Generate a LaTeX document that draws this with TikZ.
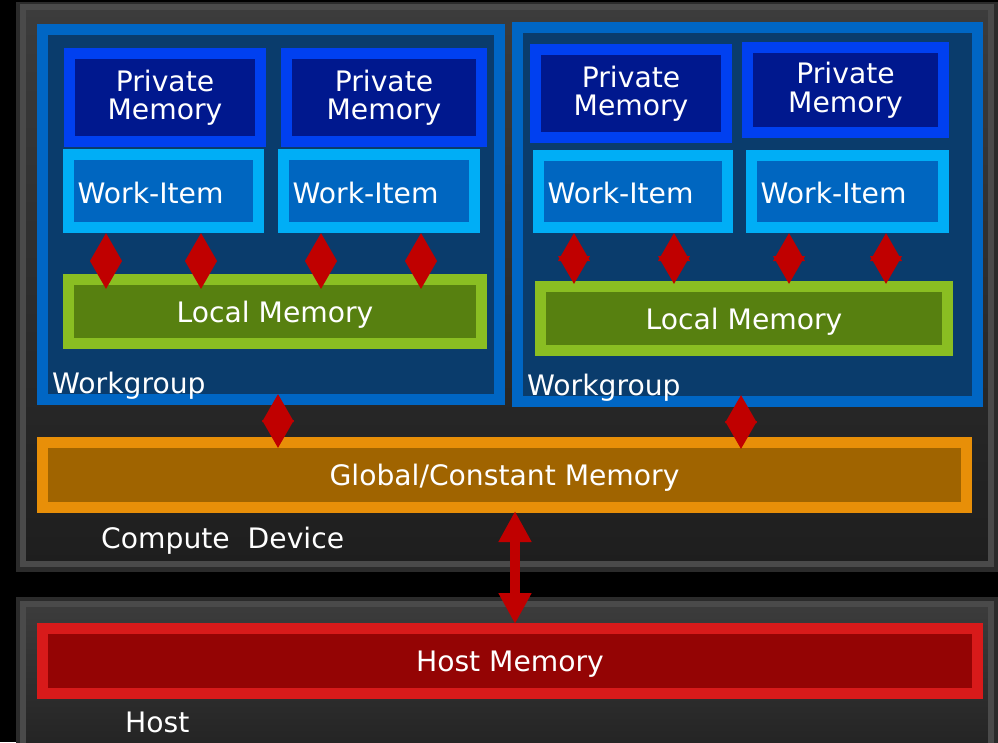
\documentclass[tikz,border=0pt]{standalone}
\usepackage{fontspec}
\setmainfont{DejaVu Sans}
\usetikzlibrary{arrows.meta,positioning}
\definecolor{framedark}{HTML}{2B2B2B}
\definecolor{framelight}{HTML}{4A4A4A}
\definecolor{frametop}{HTML}{3C3C3C}
\definecolor{framebottom}{HTML}{1E1E1E}
\definecolor{wgedge}{HTML}{0066C4}
\definecolor{wgfill}{HTML}{0A3C6C}
\definecolor{pmedge}{HTML}{0040F0}
\definecolor{pmfill}{HTML}{00188E}
\definecolor{wiedge}{HTML}{00AEF6}
\definecolor{wifill}{HTML}{0066C0}
\definecolor{lmedge}{HTML}{8ABE22}
\definecolor{lmfill}{HTML}{578010}
\definecolor{gmedge}{HTML}{E88F08}
\definecolor{gmfill}{HTML}{A06400}
\definecolor{hmedge}{HTML}{D81A1A}
\definecolor{hmfill}{HTML}{940404}
\definecolor{arrowred}{HTML}{C00000}
\tikzset{
    %Define standard arrow tip
    >={Triangle[length=28pt,width=31pt]},
    %Define style for boxes
    memory/.style={
           inner sep=0pt,
           line width=11pt,
           text=white,
           align=center,
           font=\fontsize{28.2}{28.5}\selectfont,},
    wgbox/.style={memory, draw=wgedge, fill=wgfill},
    pmbox/.style={memory, draw=pmedge, fill=pmfill},
    wibox/.style={memory, draw=wiedge, fill=wifill},
    lmbox/.style={memory, draw=lmedge, fill=lmfill, text depth=0pt},
    gmbox/.style={memory, draw=gmedge, fill=gmfill, text depth=0pt},
    hmbox/.style={memory, draw=hmedge, fill=hmfill, text depth=0pt},
    frame/.style={
           inner sep=0pt,
           line width=6pt,
           draw=framelight,
           top color=frametop,
           bottom color=framebottom,},
    lbl/.style={text=white, inner sep=0pt, font=\fontsize{28.2}{28.5}\selectfont},
    pil/.style={
           <->,
           draw=arrowred,
           line width=4pt,},
    bigpil/.style={pil, line width=10pt, >={Triangle[length=31pt,width=31pt]}}
}
\begin{document}
\begin{tikzpicture}[x=1pt, y=-1pt]
 \useasboundingbox (0,0) rectangle (998,742);
 \fill[black] (0,0) rectangle (998,742);

 %device and host frames
 \fill[framedark] (16,2) rectangle (998,572);
 \node[frame, minimum width=968pt, minimum height=557pt] (device) at (507,285.5) {};
 \fill[framedark] (16,597) rectangle (998,760);
 \node[frame, minimum width=968pt, minimum height=176pt] (hostdev) at (507,692) {};

 %workgroups
 \node[wgbox, minimum width=457pt, minimum height=370pt] (wgA) at (271,214.5) {};
 \node[wgbox, minimum width=460pt, minimum height=374pt] (wgB) at (747.5,214.5) {};

 %private memories
 \node[pmbox, minimum width=191pt, minimum height=88pt] (pmA1) at (165,97.5) {Private\\Memory};
 \node[pmbox, minimum width=195pt, minimum height=88pt] (pmA2) at (384,97.5) {Private\\Memory};
 \node[pmbox, minimum width=191pt, minimum height=88pt] (pmB1) at (631,93.5) {Private\\Memory};
 \node[pmbox, minimum width=196pt, minimum height=85pt] (pmB2) at (845.5,90) {Private\\Memory};

 %work-items
 \node[wibox, minimum width=190pt, minimum height=73pt] (wiA1) at (163.5,191) {};
 \node[wibox, minimum width=191pt, minimum height=73pt] (wiA2) at (379,191) {};
 \node[wibox, minimum width=189pt, minimum height=72pt] (wiB1) at (633,191.5) {};
 \node[wibox, minimum width=192pt, minimum height=72pt] (wiB2) at (847.5,191.5) {};
 \node[lbl, right=14.5pt of wiA1.west, yshift=-1.5pt] (wiA1name) {Work-Item};
 \node[lbl, right=14.5pt of wiA2.west, yshift=-1.5pt] (wiA2name) {Work-Item};
 \node[lbl, right=14.5pt of wiB1.west, yshift=-1.5pt] (wiB1name) {Work-Item};
 \node[lbl, right=14.5pt of wiB2.west, yshift=-1.5pt] (wiB2name) {Work-Item};

 %local memories
 \node[lmbox, minimum width=413pt, minimum height=64pt] (lmA) at (275,311.5) {Local Memory};
 \node[lmbox, minimum width=407pt, minimum height=64pt] (lmB) at (744,318.5) {Local Memory};

 %global and host memory
 \node[gmbox, minimum width=924pt, minimum height=65pt] (gm) at (504.5,475) {Global/Constant Memory};
 \node[hmbox, minimum width=935pt, minimum height=65pt] (hm) at (510,661) {Host Memory};

 %labels
 \node[lbl, anchor=base west] (wgAname) at ([xshift=15pt,yshift=12pt]wgA.south west) {Workgroup};
 \node[lbl, anchor=base west] (wgBname) at ([xshift=15pt,yshift=12pt]wgB.south west) {Workgroup};
 \node[lbl, anchor=base west] (devname) at (101,548) {Compute~~Device};
 \node[lbl, anchor=base west] (hostname) at (125,732) {Host};

 %work-item to local memory
 \path (wiA1.south -| 106,0) edge[pil, shorten >=-15pt] (lmA.north -| 106,0);
 \path (wiA1.south -| 201,0) edge[pil, shorten >=-15pt] (lmA.north -| 201,0);
 \path (wiA2.south -| 321,0) edge[pil, shorten >=-15pt] (lmA.north -| 321,0);
 \path (wiA2.south -| 421,0) edge[pil, shorten >=-15pt] (lmA.north -| 421,0);
 \path (wiB1.south -| 574,0) edge[pil, shorten >=-3pt] (lmB.north -| 574,0);
 \path (wiB1.south -| 674,0) edge[pil, shorten >=-3pt] (lmB.north -| 674,0);
 \path (wiB2.south -| 789,0) edge[pil, shorten >=-3pt] (lmB.north -| 789,0);
 \path (wiB2.south -| 886,0) edge[pil, shorten >=-3pt] (lmB.north -| 886,0);

 %workgroup to global memory
 \path (wgA.south -| 278,0) edge[pil, shorten <=-11pt, shorten >=-11pt] (gm.north -| 278,0);
 \path (wgB.south -| 741,0) edge[pil, shorten <=-12pt, shorten >=-12pt] (gm.north -| 741,0);

 %global to host memory
 \path (gm.south -| 515,0) edge[bigpil, shorten <=-2pt, shorten >=-1pt] (hm.north -| 515,0);

\end{tikzpicture}
\end{document}
